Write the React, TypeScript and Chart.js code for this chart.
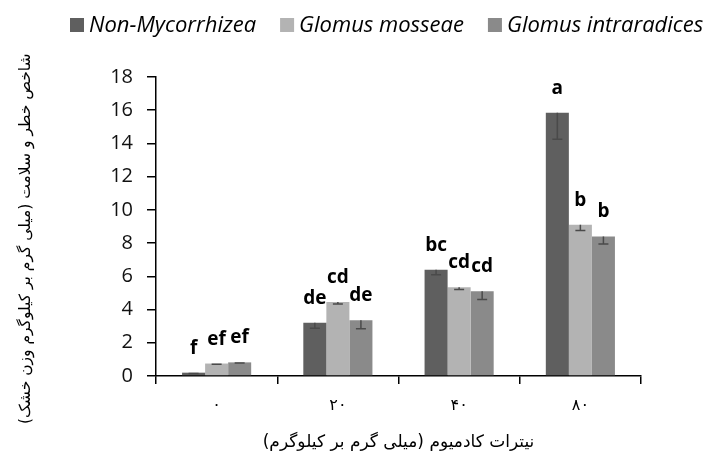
import { useEffect, useRef } from "react";
import { Chart, registerables } from "chart.js";

Chart.register(...registerables);

// ---- data ----
const categories = ["۰", "۲۰", "۴۰", "۸۰"];
const seriesNames = ["Non-Mycorrhizea", "Glomus mosseae", "Glomus intraradices"];
const nonMycorrhizea = [0.2, 3.2, 6.4, 15.85];
const glomusMosseae = [0.75, 4.45, 5.35, 9.1];
const glomusIntraradices = [0.82, 3.35, 5.1, 8.4];
const nonMycorrhizeaErr = [0.05, 0.33, 0.3, 1.6];
const glomusMosseaeErr = [0.04, 0.12, 0.14, 0.34];
const glomusIntraradicesErr = [0.03, 0.5, 0.5, 0.45];
const nonMycorrhizeaLetters = ["f", "de", "bc", "a"];
const glomusMosseaeLetters = ["ef", "cd", "cd", "b"];
const glomusIntraradicesLetters = ["ef", "de", "cd", "b"];
const yMin = 0;
const yMax = 18;
const yStep = 2;
const xTitle = "نیترات کادمیوم (میلی گرم بر کیلوگرم)\u200F";
const yTitle = "\u200F\u00A0\u00A0\u00A0\u00A0\u00A0شاخص خطر و سلامت (میلی گرم بر کیلوگرم وزن خشک)\u200F";

const colors = ["#5f5f5f", "#b3b3b3", "#8a8a8a"];
const errs = [nonMycorrhizeaErr, glomusMosseaeErr, glomusIntraradicesErr];
const letters = [nonMycorrhizeaLetters, glomusMosseaeLetters, glomusIntraradicesLetters];

const barExtras = {
  id: "barExtras",
  afterDatasetsDraw(chart: any) {
    const ctx = chart.ctx;
    const yScale = chart.scales.y;
    ctx.save();
    chart.data.datasets.forEach((ds: any, i: number) => {
      const meta = chart.getDatasetMeta(i);
      meta.data.forEach((bar: any, j: number) => {
        const v = ds.data[j];
        const e = errs[i][j];
        const yTop = yScale.getPixelForValue(v);
        const yLow = yScale.getPixelForValue(v - e);
        ctx.strokeStyle = "#4a4a4a";
        ctx.lineWidth = 1.5;
        ctx.beginPath();
        ctx.moveTo(bar.x, yTop);
        ctx.lineTo(bar.x, yLow);
        ctx.moveTo(bar.x - 5, yLow);
        ctx.lineTo(bar.x + 5, yLow);
        ctx.stroke();
        ctx.fillStyle = "#000";
        ctx.font = "bold 19px 'Open Sans'";
        ctx.textAlign = "center";
        ctx.textBaseline = "alphabetic";
        ctx.fillText(letters[i][j], bar.x, yTop - 19);
      });
    });
    ctx.restore();
  },
};

const customLegend = {
  id: "customLegend",
  afterDraw(chart: any) {
    const ctx = chart.ctx;
    ctx.save();
    ctx.font = "italic 22px 'Open Sans'";
    ctx.textAlign = "left";
    ctx.textBaseline = "alphabetic";
    let x = 70;
    chart.data.datasets.forEach((ds: any) => {
      ctx.fillStyle = ds.backgroundColor;
      ctx.fillRect(x, 18, 14, 14);
      ctx.fillStyle = "#000";
      ctx.fillText(ds.label, x + 19, 32);
      x += 19 + ctx.measureText(ds.label).width + 24;
    });
    ctx.restore();
  },
};

export default function App() {
  const ref = useRef<HTMLCanvasElement | null>(null);
  useEffect(() => {
    if (!ref.current) return;
    const chart = new Chart(ref.current, {
      type: "bar",
      data: {
        labels: categories,
        datasets: [nonMycorrhizea, glomusMosseae, glomusIntraradices].map((d, i) => ({
          label: seriesNames[i],
          data: d,
          backgroundColor: colors[i],
          borderWidth: 0,
          categoryPercentage: 0.57,
          barPercentage: 1.0,
        })),
      },
      options: {
        responsive: false,
        animation: false,
        layout: { padding: { top: 77, right: 64, left: 0, bottom: 0 } },
        plugins: {
          legend: { display: false },
          tooltip: { enabled: false },
        },
        scales: {
          x: {
            afterFit: (s: any) => {
              s.height = 80;
            },
            grid: {
              display: true,
              drawOnChartArea: false,
              drawTicks: true,
              tickLength: 8,
              color: "#000",
              lineWidth: 1.5,
              offset: true,
            },
            border: { display: true, color: "#000", width: 1.5 },
            ticks: {
              color: "#000",
              font: { family: "'DejaVu Sans'", size: 16 },
              padding: 12,
            },
            title: {
              display: true,
              text: xTitle,
              color: "#000",
              font: { family: "'DejaVu Sans'", size: 17 },
              padding: { top: 0, bottom: 3 },
            },
          },
          y: {
            min: yMin,
            max: yMax,
            afterFit: (s: any) => {
              s.width = 156;
            },
            grid: {
              display: true,
              drawOnChartArea: false,
              drawTicks: true,
              tickLength: 9,
              color: "#000",
              lineWidth: 1.5,
            },
            border: { display: true, color: "#000", width: 1.5 },
            ticks: {
              stepSize: yStep,
              color: "#111",
              font: { family: "'Open Sans'", size: 20 },
              padding: 14,
            },
            title: {
              display: true,
              text: yTitle,
              color: "#000",
              font: { family: "'DejaVu Sans'", size: 15.5 },
              padding: { top: 17, bottom: 0 },
            },
          },
        },
      },
      plugins: [barExtras, customLegend],
    });
    return () => chart.destroy();
  }, []);
  return (
    <div style={{ position: "absolute", left: 0, top: 0, width: 705, height: 456, background: "#fff" }}>
      <canvas ref={ref} width={705} height={456} style={{ display: "block" }} />
    </div>
  );
}
